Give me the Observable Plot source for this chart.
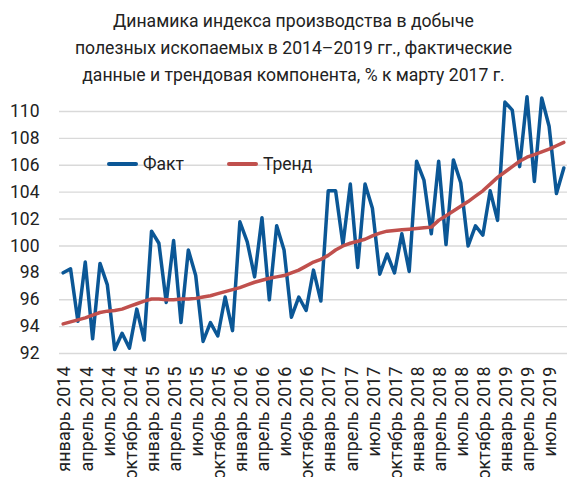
<!DOCTYPE html>
<html><head><meta charset="utf-8">
<script src="https://cdn.jsdelivr.net/npm/d3@7"></script>
<script src="https://cdn.jsdelivr.net/npm/@observablehq/plot@0.6"></script>
<style>
body{margin:0;background:#fff;font-family:Roboto, "Noto Sans", sans-serif;}
#wrap{position:relative;width:567px;height:477px;overflow:hidden}
#title{position:absolute;left:20px;top:8px;width:547px;text-align:center;font-size:17.6px;line-height:27px;color:#222}
#chart{position:absolute;left:0;top:88px}
.leg{position:absolute;display:flex;align-items:center;font-size:17.5px;color:#222;height:20px}
.sw{width:31px;height:0;border-top:4px solid;margin-right:5px;border-radius:2px}
</style></head>
<body>
<div id="wrap">
<div id="title">Динамика индекса производства в добыче<br>полезных ископаемых в 2014–2019 гг., фактические<br>данные и трендовая компонента, % к марту 2017 г.</div>
<div id="chart"></div>
<div class="leg" style="left:107px;top:154px"><div class="sw" style="border-color:#0b5796"></div>Факт</div>
<div class="leg" style="left:227px;top:154px"><div class="sw" style="border-color:#c0504d"></div>Тренд</div>
</div>
<script>
const monthNames = ["январь","февраль","март","апрель","май","июнь","июль","август","сентябрь","октябрь","ноябрь","декабрь"];
const startYear = 2014;
const fact = [
  98.0, 98.3, 94.4, 98.8, 93.1, 98.7, 97.1, 92.3, 93.5, 92.4, 95.3, 93.0,
  101.1, 100.2, 95.8, 100.4, 94.3, 99.7, 97.8, 92.9, 94.3, 93.3, 96.2, 93.7,
  101.8, 100.3, 97.7, 102.1, 96.0, 101.5, 99.7, 94.7, 96.2, 95.2, 98.2, 95.9,
  104.1, 104.1, 100.1, 104.6, 98.4, 104.6, 102.8, 97.9, 99.4, 98.0, 100.9, 98.1,
  106.3, 104.9, 100.9, 106.3, 100.1, 106.4, 104.7, 100.0, 101.5, 100.8, 104.1, 101.9,
  110.7, 110.1, 105.9, 111.1, 104.8, 111.0, 108.9, 103.9, 105.8
];
const trend = [
  94.2, 94.35, 94.5, 94.65, 94.85, 95.05, 95.15, 95.2, 95.3, 95.5, 95.7, 95.9,
  96.05, 96.05, 96.0, 96.0, 96.05, 96.05, 96.1, 96.2, 96.3, 96.45, 96.6, 96.75,
  96.9, 97.1, 97.3, 97.45, 97.6, 97.7, 97.8, 98.0, 98.2, 98.5, 98.8, 99.0,
  99.3, 99.7, 100.0, 100.2, 100.35, 100.5, 100.75, 100.95, 101.1, 101.15, 101.2, 101.25,
  101.3, 101.35, 101.4, 101.9, 102.25, 102.6, 102.95, 103.3, 103.7, 104.1, 104.6, 105.1,
  105.5, 105.9, 106.3, 106.6, 106.8, 107.0, 107.2, 107.45, 107.7
];
const yTicks = [92, 94, 96, 98, 100, 102, 104, 106, 108, 110];
const xTickIdx = d3.range(0, fact.length, 3);
const label = i => monthNames[i % 12] + " " + (startYear + Math.floor(i / 12));

const factData = fact.map((v, i) => ({i, v}));
const trendData = trend.map((v, i) => ({i, v}));

const chart = Plot.plot({
  width: 567, height: 389,
  marginTop: 23, marginBottom: 124, marginLeft: 59, marginRight: 0,
  style: {fontFamily: "Roboto, 'Noto Sans', sans-serif", color: "#222", background: "transparent"},
  x: {type: "linear", domain: [-0.5, fact.length - 0.5]},
  y: {domain: [92, 110]},
  marks: [
    Plot.gridY(yTicks, {stroke: "#d9d9d9", strokeOpacity: 1, strokeWidth: 1.4}),
    Plot.axisY(yTicks, {tickSize: 0, tickPadding: 20, fontSize: 17.5, label: null}),
    Plot.axisX(xTickIdx, {tickSize: 0, tickPadding: 13, tickRotate: -90, fontSize: 18, dx: 1.5, tickFormat: label, label: null}),
    Plot.line(factData, {x: "i", y: "v", stroke: "#0b5796", strokeWidth: 3.5, strokeLinejoin: "round"}),
    Plot.line(trendData, {x: "i", y: "v", stroke: "#c0504d", strokeWidth: 3.5, strokeLinejoin: "round"})
  ]
});
document.getElementById("chart").appendChild(chart);
</script>
</body></html>
